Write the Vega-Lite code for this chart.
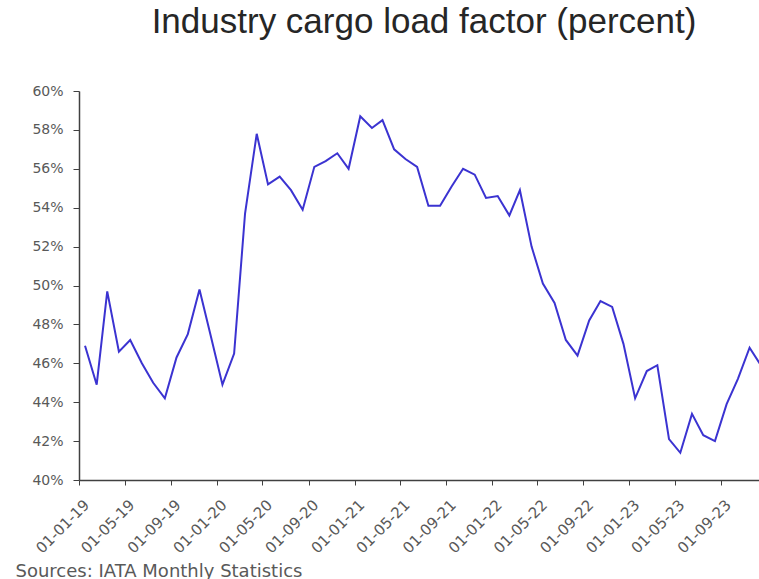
{
  "$schema": "https://vega.github.io/schema/vega-lite/v6.json",
  "width": 680,
  "height": 389,
  "autosize": {"type": "none"},
  "padding": {"left": 79, "top": 91, "right": 0, "bottom": 99},
  "background": "white",
  "title": {
    "text": "Industry cargo load factor (percent)",
    "font": "Liberation Sans",
    "fontSize": 35,
    "fontWeight": "normal",
    "color": "#262626",
    "anchor": "middle",
    "dx": 5,
    "offset": 16,
    "baseline": "alphabetic"
  },
  "config": {"view": {"stroke": null}, "font": "DejaVu Sans"},
  "data": {
    "values": [
      {"date": "2019-01-01", "value": 46.9},
      {"date": "2019-02-01", "value": 44.9},
      {"date": "2019-03-01", "value": 49.7},
      {"date": "2019-04-01", "value": 46.6},
      {"date": "2019-05-01", "value": 47.2},
      {"date": "2019-06-01", "value": 46.0},
      {"date": "2019-07-01", "value": 45.0},
      {"date": "2019-08-01", "value": 44.2},
      {"date": "2019-09-01", "value": 46.3},
      {"date": "2019-10-01", "value": 47.5},
      {"date": "2019-11-01", "value": 49.8},
      {"date": "2019-12-01", "value": 47.4},
      {"date": "2020-01-01", "value": 44.9},
      {"date": "2020-02-01", "value": 46.5},
      {"date": "2020-03-01", "value": 53.7},
      {"date": "2020-04-01", "value": 57.8},
      {"date": "2020-05-01", "value": 55.2},
      {"date": "2020-06-01", "value": 55.6},
      {"date": "2020-07-01", "value": 54.9},
      {"date": "2020-08-01", "value": 53.9},
      {"date": "2020-09-01", "value": 56.1},
      {"date": "2020-10-01", "value": 56.4},
      {"date": "2020-11-01", "value": 56.8},
      {"date": "2020-12-01", "value": 56.0},
      {"date": "2021-01-01", "value": 58.7},
      {"date": "2021-02-01", "value": 58.1},
      {"date": "2021-03-01", "value": 58.5},
      {"date": "2021-04-01", "value": 57.0},
      {"date": "2021-05-01", "value": 56.5},
      {"date": "2021-06-01", "value": 56.1},
      {"date": "2021-07-01", "value": 54.1},
      {"date": "2021-08-01", "value": 54.1},
      {"date": "2021-09-01", "value": 55.1},
      {"date": "2021-10-01", "value": 56.0},
      {"date": "2021-11-01", "value": 55.7},
      {"date": "2021-12-01", "value": 54.5},
      {"date": "2022-01-01", "value": 54.6},
      {"date": "2022-02-01", "value": 53.6},
      {"date": "2022-03-01", "value": 54.9},
      {"date": "2022-04-01", "value": 52.0},
      {"date": "2022-05-01", "value": 50.1},
      {"date": "2022-06-01", "value": 49.1},
      {"date": "2022-07-01", "value": 47.2},
      {"date": "2022-08-01", "value": 46.4},
      {"date": "2022-09-01", "value": 48.2},
      {"date": "2022-10-01", "value": 49.2},
      {"date": "2022-11-01", "value": 48.9},
      {"date": "2022-12-01", "value": 47.0},
      {"date": "2023-01-01", "value": 44.2},
      {"date": "2023-02-01", "value": 45.6},
      {"date": "2023-03-01", "value": 45.9},
      {"date": "2023-04-01", "value": 42.1},
      {"date": "2023-05-01", "value": 41.4},
      {"date": "2023-06-01", "value": 43.4},
      {"date": "2023-07-01", "value": 42.3},
      {"date": "2023-08-01", "value": 42.0},
      {"date": "2023-09-01", "value": 43.9},
      {"date": "2023-10-01", "value": 45.2},
      {"date": "2023-11-01", "value": 46.8},
      {"date": "2023-12-01", "value": 45.9}
    ]
  },
  "mark": {"type": "line", "color": "#3b33d1", "strokeWidth": 2, "clip": true},
  "encoding": {
    "x": {
      "field": "date",
      "type": "temporal",
      "scale": {
        "type": "utc",
        "domain": [
          {"year": 2018, "month": 12, "date": 16, "utc": true},
          {"year": 2023, "month": 11, "date": 26, "utc": true}
        ]
      },
      "axis": {
        "grid": false,
        "tickCount": {"interval": "month", "step": 4},
        "format": "%d-%m-%y",
        "labelAngle": -45,
        "labelAlign": "right",
        "labelBaseline": "top",
        "tickOffset": -5.7,
        "labelOffset": 2,
        "tickSize": 5,
        "labelPadding": 12,
        "labelFont": "DejaVu Sans",
        "labelFontSize": 15,
        "labelColor": "#595959",
        "labelOverlap": false,
        "labelBound": false,
        "labelFlush": false,
        "domainColor": "#404040",
        "tickColor": "#404040",
        "domainWidth": 1.5,
        "title": "Sources: IATA Monthly Statistics",
        "titleX": -64,
        "titleY": 96,
        "titleAlign": "left",
        "titleBaseline": "alphabetic",
        "titleFont": "DejaVu Sans",
        "titleFontSize": 18,
        "titleFontWeight": "normal",
        "titleColor": "#595959"
      }
    },
    "y": {
      "field": "value",
      "type": "quantitative",
      "scale": {"domain": [40, 60], "nice": false, "zero": false},
      "axis": {
        "grid": false,
        "values": [40, 42, 44, 46, 48, 50, 52, 54, 56, 58, 60],
        "labelExpr": "datum.value + '%'",
        "tickSize": 6,
        "labelPadding": 10,
        "labelFont": "DejaVu Sans",
        "labelFontSize": 14,
        "labelColor": "#595959",
        "domainColor": "#404040",
        "tickColor": "#404040",
        "domainWidth": 1.5,
        "title": null
      }
    }
  }
}
